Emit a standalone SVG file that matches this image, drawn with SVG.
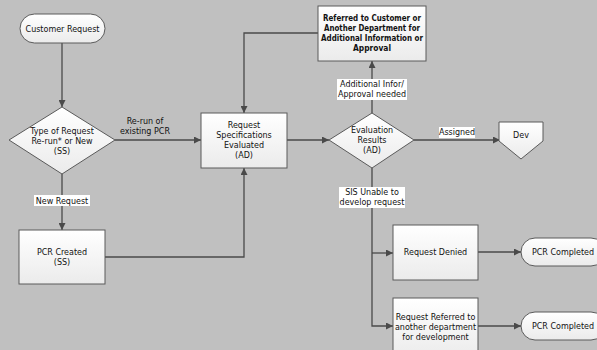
<svg xmlns="http://www.w3.org/2000/svg" width="597" height="350" viewBox="0 0 597 350">
<style>
.bg{fill:#c0c0c0}
.shape{fill:url(#g);stroke:#5a5a5a;stroke-width:1}
.t{font-family:"DejaVu Sans",Verdana,sans-serif;font-size:8px;fill:#111;text-anchor:middle}
.b{font-weight:bold}
.c{fill:none;stroke:#4a4a4a;stroke-width:1.3}
.lbl{fill:#ffffff}
</style>
<defs>
<linearGradient id="g" x1="0" y1="0" x2="0" y2="1">
<stop offset="0" stop-color="#ffffff"/>
<stop offset="1" stop-color="#ebebeb"/>
</linearGradient>
<marker id="a" viewBox="0 0 10 10" refX="10" refY="5" markerWidth="7" markerHeight="7" markerUnits="userSpaceOnUse" orient="auto">
<path d="M0,0 L10,5 L0,10 z" fill="#4a4a4a"/>
</marker>
</defs>
<rect class="bg" x="0" y="0" width="597" height="350"/>

<g id="connectors">
<path class="c" d="M62,43 V107" marker-end="url(#a)"/>
<path class="c" d="M115,140 H201" marker-end="url(#a)"/>
<path class="c" d="M62,174 V230" marker-end="url(#a)"/>
<path class="c" d="M105,257 H244 V168" marker-end="url(#a)"/>
<path class="c" d="M318,33 H244 V113" marker-end="url(#a)"/>
<path class="c" d="M287,140 H329" marker-end="url(#a)"/>
<path class="c" d="M372,113 V61" marker-end="url(#a)"/>
<path class="c" d="M414,140 H500" marker-end="url(#a)"/>
<path class="c" d="M372,168 V326 H393" marker-end="url(#a)"/>
<path class="c" d="M372,253 H393" marker-end="url(#a)"/>
<path class="c" d="M478,252 H521" marker-end="url(#a)"/>
<path class="c" d="M478,326 H521" marker-end="url(#a)"/>
<rect class="lbl" x="34" y="195" width="56" height="11"/>
<text class="t" x="62" y="204">New Request</text>
<text class="t" x="145" y="124">Re-run of</text>
<text class="t" x="145" y="134">existing PCR</text>
<rect class="lbl" x="337" y="79" width="70" height="21"/>
<text class="t" x="372" y="87">Additional Infor/</text>
<text class="t" x="372" y="97">Approval needed</text>
<rect class="lbl" x="439" y="127" width="36" height="11"/>
<text class="t" x="457" y="135">Assigned</text>
<rect class="lbl" x="339" y="187" width="66" height="21"/>
<text class="t" x="372" y="195">SIS Unable to</text>
<text class="t" x="372" y="205">develop request</text>
</g>

<g id="customer-request">
<rect class="shape" x="20" y="14" width="85" height="29" rx="14.5"/>
<text class="t" x="62.5" y="31.5">Customer Request</text>
</g>

<g id="type-of-request">
<polygon class="shape" points="62,107 115,140 62,174 9,140"/>
<text class="t" x="62" y="134">Type of Request</text>
<text class="t" x="62" y="144">Re-run* or New</text>
<text class="t" x="62" y="154">(SS)</text>
</g>

<g id="pcr-created">
<rect class="shape" x="19" y="230" width="86" height="54"/>
<text class="t" x="62" y="255">PCR Created</text>
<text class="t" x="62" y="265">(SS)</text>
</g>

<g id="request-specs">
<rect class="shape" x="201" y="113" width="86" height="55"/>
<text class="t" x="244" y="128">Request</text>
<text class="t" x="244" y="138">Specifications</text>
<text class="t" x="244" y="148">Evaluated</text>
<text class="t" x="244" y="158">(AD)</text>
</g>

<g id="referred">
<rect class="shape" x="318" y="6" width="108" height="55"/>
<text class="t b" x="372" y="21" textLength="98" lengthAdjust="spacingAndGlyphs">Referred to Customer or</text>
<text class="t b" x="372" y="31" textLength="96" lengthAdjust="spacingAndGlyphs">Another Department for</text>
<text class="t b" x="372" y="41" textLength="102" lengthAdjust="spacingAndGlyphs">Additional Information or</text>
<text class="t b" x="372" y="51" textLength="38" lengthAdjust="spacingAndGlyphs">Approval</text>
</g>

<g id="evaluation-results">
<polygon class="shape" points="372,113 414,140 372,168 329,140"/>
<text class="t" x="372" y="133">Evaluation</text>
<text class="t" x="372" y="143">Results</text>
<text class="t" x="372" y="153">(AD)</text>
</g>

<g id="dev">
<polygon class="shape" points="499,122 543,122 543,141 521,159 499,141"/>
<text class="t" x="521" y="138">Dev</text>
</g>

<g id="request-denied">
<rect class="shape" x="393" y="225" width="85" height="55"/>
<text class="t" x="435.5" y="255">Request Denied</text>
</g>

<g id="pcr-completed-1">
<rect class="shape" x="521" y="238" width="84" height="28" rx="14"/>
<text class="t" x="563" y="255">PCR Completed</text>
</g>

<g id="request-referred">
<rect class="shape" x="393" y="298" width="85" height="60"/>
<text class="t" x="435.5" y="320">Request Referred to</text>
<text class="t" x="435.5" y="330">another department</text>
<text class="t" x="435.5" y="340">for development</text>
</g>

<g id="pcr-completed-2">
<rect class="shape" x="521" y="312" width="84" height="28" rx="14"/>
<text class="t" x="563" y="329">PCR Completed</text>
</g>
</svg>
